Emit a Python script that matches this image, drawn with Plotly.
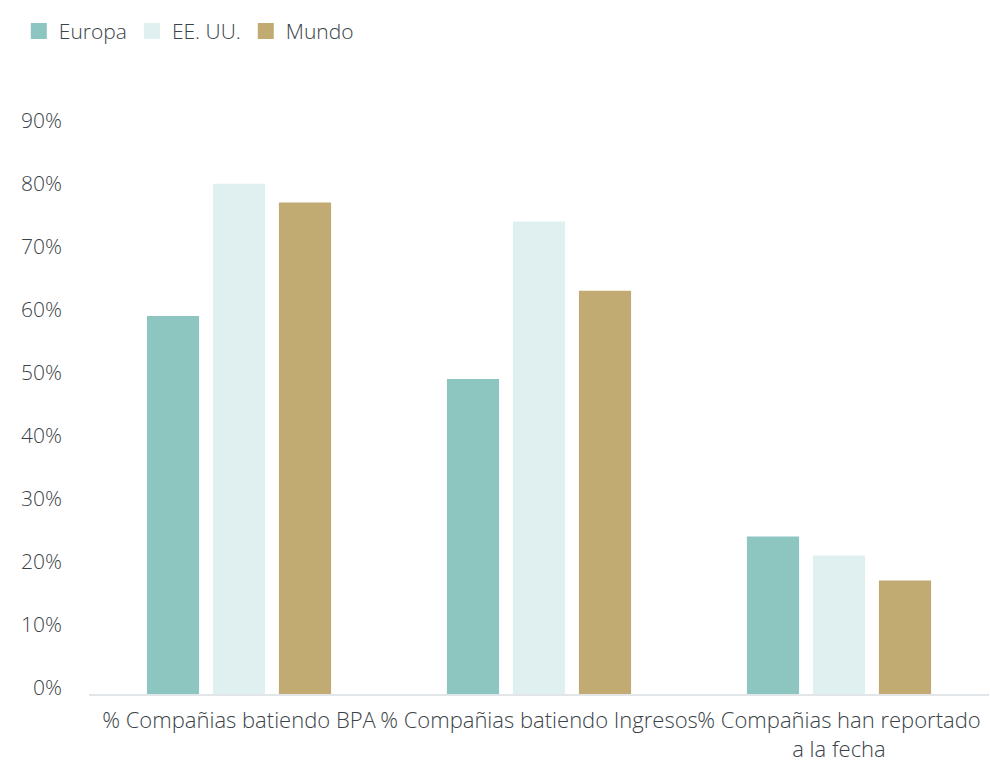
import plotly.graph_objects as go

# Earnings-season scorecard by region
categories = [
    "% Compañias batiendo BPA",
    "% Compañias batiendo Ingresos",
    "% Compañias han reportado<br>a la fecha",
]
europa = [60, 50, 25]
eeuu = [81, 75, 22]
mundo = [78, 64, 18]

series = [
    ("Europa", europa, "#8dc6c1"),
    ("EE. UU.", eeuu, "#e0efef"),
    ("Mundo", mundo, "#c2aa73"),
]

y_ticks = [0, 10, 20, 30, 40, 50, 60, 70, 80, 90]
y_tick_labels = [f"{v}%" for v in y_ticks]

text_color = "#3a4348"
font_family = "Open Sans, Noto Sans, sans-serif"

fig = go.Figure()
for name, values, color in series:
    fig.add_trace(go.Bar(
        x=categories, y=values, name=name,
        marker=dict(color=color, line=dict(width=0)),
        legendgroup=name, showlegend=False,
    ))
# Legend entries with larger square swatches
for name, values, color in series:
    fig.add_trace(go.Scatter(
        x=[None], y=[None], mode="markers", name=name,
        marker=dict(symbol="square", size=19, color=color),
        legendgroup=name, showlegend=True,
    ))

fig.update_layout(
    width=990, height=773,
    margin=dict(l=89, r=1, t=127, b=79),
    paper_bgcolor="white", plot_bgcolor="white",
    barmode="group", bargap=0.34, bargroupgap=0.21,
    font=dict(family=font_family, size=21, color=text_color, weight=300),
    legend=dict(
        orientation="h", x=-0.078, y=1.205, xanchor="left", yanchor="top",
        font=dict(family=font_family, size=21, color=text_color, weight=300),
        itemclick=False, itemdoubleclick=False,
    ),
    xaxis=dict(
        showgrid=False, showline=True, linecolor="#e3e6e8", linewidth=2,
        ticks="", tickangle=0, automargin=False,
        tickfont=dict(family=font_family, size=22, color=text_color, weight=300),
        ticklabelstandoff=6, fixedrange=True,
    ),
    yaxis=dict(
        range=[0, 90], showgrid=False, zeroline=False, showline=False,
        tickvals=y_ticks, ticktext=y_tick_labels, ticks="", automargin=False,
        tickfont=dict(family=font_family, size=21, color=text_color, weight=300),
        ticklabelstandoff=26, ticklabelshift=-6, fixedrange=True,
    ),
)

fig.write_html("out.html")
